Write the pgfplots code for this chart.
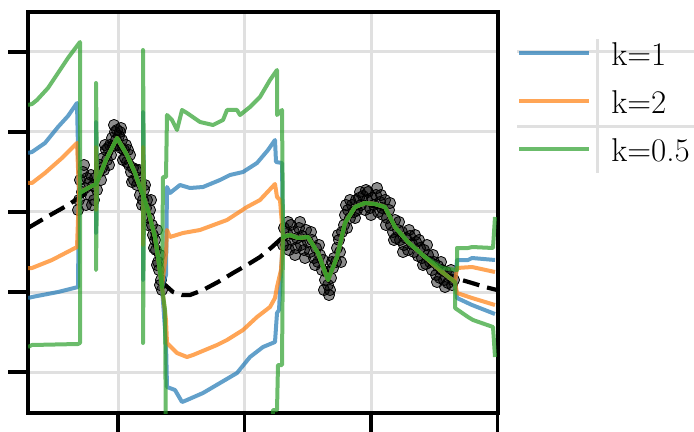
\documentclass[border=0pt]{standalone}
\usepackage{pgfplots}
\pgfplotsset{compat=1.18}
\definecolor{tabblue}{HTML}{1F77B4}
\definecolor{taborange}{HTML}{FF7F0E}
\definecolor{tabgreen}{HTML}{2CA02C}

\begin{document}
\begin{tikzpicture}
\path[use as bounding box] (-14pt,-9.5pt) rectangle (333pt,206.5pt);
% light rules behind the legend
\draw[black!12, line width=1.5pt] (244.5pt,180.5pt) -- (333pt,180.5pt);
\draw[black!12, line width=1.5pt] (244.5pt,143pt) -- (333pt,143pt);
\draw[black!12, line width=1.5pt] (284.5pt,187pt) -- (284.5pt,120pt);
\begin{axis}[
  at={(0,0)}, anchor=south west,
  scale only axis, width=234.75pt, height=200.5pt,
  xmin=28, xmax=497.5, ymin=12, ymax=413, y dir=reverse,
  xtick={118,244.5,371,497.5}, ytick={52,132,212,292,372},
  xticklabels={}, yticklabels={},
  tick pos=left, tick align=outside, major tick length=10pt,
  every tick/.style={black, line width=1.6pt},
  axis line style={black, line width=2pt},
  grid=major, major grid style={black!12, line width=1.5pt},
  clip marker paths=true,
  legend cell align=left,
  legend image code/.code={\draw[#1] (0pt,0pt) -- (35pt,0pt); \path[draw=none] (0pt,0pt) -- (46pt,0pt);},
  legend style={draw=none, fill=none, at={(axis description cs:1.0415,0.9277)}, anchor=north west,
    inner sep=0pt, row sep=12pt, font=\fontsize{16.5}{19}\selectfont,
    nodes={inner sep=0pt, text height=12pt, text depth=0pt}},
  every axis plot/.append style={line join=round},
]
% observations
\addplot[only marks, mark=*, mark size=2.8pt, mark options={draw=none, fill=black, fill opacity=0.45}, forget plot] coordinates {
(79,200)(80,180)(82,192)(83,172)(85,188)(86,205)(87,178)(89,183)(90,195)(91,175)(93,186)(94,200)(95,178)(97,190)(99,172)(100,165)(102,168)(103,158)(104,170)(106,150)(107,160)(108,148)(110,145)(111,155)(112,138)(113,146)(115,132)(116,140)(117,130)(118,145)(119,136)(120,132)(121,148)(122,140)(124,150)(125,158)(126,145)(127,162)(129,165)(130,155)(131,172)(133,168)(134,180)(136,170)(137,185)(138,178)(140,195)(141,183)(143,200)(144,190)(146,208)(147,200)(149,218)(150,210)(152,225)(153,235)(155,240)(156,250)(157,230)(158,262)(159,270)(160,255)(161,280)(162,290)
(78,210)(84,165)(92,205)(101,180)(105,145)(109,165)(114,125)(121,128)(123,160)(128,150)(132,182)(139,170)(142,205)(145,185)(148,225)(151,200)(154,248)(157,265)(160,285)
(284,228)(286,245)(287,233)(289,250)(291,225)(292,240)(294,232)(296,248)(297,238)(299,228)(301,245)(302,236)(304,250)(306,230)(308,242)(310,252)(312,240)(314,258)(316,248)(318,262)(320,255)(322,270)(323,260)(325,280)(327,272)(328,285)(330,290)(331,278)(333,268)(334,258)(336,262)(337,248)(339,240)(340,252)(342,232)(344,225)(345,215)(347,228)(348,210)(350,218)(352,205)(354,212)(356,200)(357,210)(359,198)(361,205)(363,196)(365,210)(367,200)(368,192)(370,208)(372,198)(374,205)(376,195)(378,212)(380,202)(382,208)(383,215)(385,200)(387,218)(389,210)(391,225)(393,232)(395,220)(396,238)(398,230)(400,240)(402,232)(404,245)(406,238)(408,250)(410,236)(412,244)(414,252)(416,242)(418,256)(420,248)(422,258)(424,250)(426,264)(428,255)(430,262)(432,270)(434,262)(436,275)(438,266)(440,278)(442,270)(444,280)(446,272)(448,283)(450,276)(452,285)(454,280)
(283,245)(288,222)(295,255)(300,222)(305,258)(311,232)(315,265)(319,245)(324,290)(329,295)(332,262)(338,235)(341,262)(346,205)(350,200)(355,218)(360,192)(366,190)(371,215)(377,188)(381,195)(386,225)(390,203)(394,240)(399,222)(403,252)(409,230)(415,235)(419,240)(423,265)(427,245)(433,255)(437,282)(441,262)(445,287)(451,270)
};
% posterior mean
\addplot[black, line width=2.1pt, dash pattern=on 8.5pt off 4pt, forget plot] coordinates {
(28,228)(45,218)(68,205)(83,195)(97,182)(106,162)(117,142)(127,157)(135,175)(141,192)(148,212)(155,245)(163,283)(173,292)(182,295)(190,295)(203,290)(218,282)(233,273)(247,265)(260,257)(272,247)(283,237)(298,238)(308,238)(318,252)(328,276)(337,257)(345,225)(355,209)(365,205)(375,206)(385,209)(395,227)(408,242)(425,258)(440,272)(455,278)(472,283)(485,287)(497,290)
};
% k = 1
\addplot[tabblue, opacity=0.7, line width=2pt] coordinates {
(28,153)(32,152)(45,143)(58,127)(68,116)(77,103)(79,193)(88,188)(96,184)(96,122)(97,182)(106,160)(117,138)(127,155)(135,173)(141,190)(143,195)(143,112)(144,198)(148,210)(155,237)(158,257)(162,287)(166,275)(167,187)(170,193)(180,185)(190,188)(203,187)(220,180)(230,175)(243,172)(257,163)(268,150)(275,140)(276,162)(282,163)(283,237)(290,235)(298,238)(308,237)(318,253)(328,280)(337,257)(345,223)(355,207)(365,203)(375,204)(385,207)(395,227)(408,242)(425,257)(442,272)(455,282)(457,260)(468,260)(472,258)(495,260)
};
\addlegendentry{k=1}
\addplot[tabblue, opacity=0.7, line width=2pt, forget plot] coordinates {
(28,298)(32,297)(58,292)(78,287)(79,193)(88,188)(96,184)(96,233)(97,182)(106,160)(117,138)(127,155)(135,173)(141,190)(143,195)(143,280)(144,198)(148,210)(155,237)(158,257)(162,287)(166,343)(167,387)(175,390)(182,402)(187,400)(203,393)(220,383)(237,373)(250,357)(263,347)(275,342)(277,313)(279,310)(283,237)(290,235)(298,238)(308,237)(318,253)(328,280)(337,257)(345,223)(355,207)(365,203)(375,204)(385,207)(395,227)(408,242)(425,257)(442,272)(455,282)(457,298)(472,305)(495,314)
};
% k = 2
\addplot[taborange, opacity=0.7, line width=2pt] coordinates {
(28,183)(32,183)(45,173)(62,158)(77,143)(79,193)(88,188)(96,184)(96,147)(97,182)(106,160)(117,138)(127,155)(135,173)(141,190)(143,195)(143,147)(144,198)(148,210)(155,237)(158,257)(162,287)(166,253)(167,230)(170,237)(183,233)(200,230)(227,220)(247,207)(260,200)(275,184)(277,197)(280,200)(283,237)(290,235)(298,238)(308,237)(318,253)(328,280)(337,257)(345,223)(355,207)(365,203)(375,204)(385,207)(395,227)(408,242)(425,257)(442,272)(455,282)(457,268)(472,267)(495,272)
};
\addlegendentry{k=2}
\addplot[taborange, opacity=0.7, line width=2pt, forget plot] coordinates {
(28,268)(32,268)(52,260)(77,247)(79,193)(88,188)(96,184)(96,210)(97,182)(106,160)(117,138)(127,155)(135,173)(141,190)(143,195)(143,245)(144,198)(148,210)(155,237)(158,257)(162,287)(166,320)(167,343)(177,353)(187,357)(193,355)(217,345)(227,340)(243,330)(257,317)(270,307)(275,298)(277,287)(281,270)(283,237)(290,235)(298,238)(308,237)(318,253)(328,280)(337,257)(345,223)(355,207)(365,203)(375,204)(385,207)(395,227)(408,242)(425,257)(442,272)(455,282)(457,293)(472,298)(495,305)
};
% k = 0.5
\addplot[tabgreen, opacity=0.7, line width=2pt] coordinates {
(28,105)(32,104)(37,100)(48,88)(58,73)(68,58)(80,42)(80,193)(88,188)(96,184)(96,83)(97,182)(106,160)(117,138)(127,155)(135,173)(141,190)(143,195)(143,50)(144,198)(148,210)(155,237)(158,257)(162,287)(163,177)(166,177)(167,115)(172,120)(177,130)(182,110)(187,113)(200,122)(213,125)(223,120)(227,110)(237,110)(240,115)(250,107)(260,97)(270,80)(277,70)(277,115)(282,110)(283,237)(290,235)(298,238)(308,237)(318,253)(328,280)(337,257)(345,223)(355,207)(365,203)(375,204)(385,207)(395,227)(408,242)(425,257)(442,268)(457,270)(457,248)(468,248)(472,247)(493,248)(495,217)
};
\addlegendentry{k=0.5}
\addplot[tabgreen, opacity=0.7, line width=2pt, forget plot] coordinates {
(28,347)(32,345)(78,344)(80,343)(80,193)(88,188)(96,184)(96,270)(97,182)(106,160)(117,138)(127,155)(135,173)(141,190)(143,195)(143,343)(144,198)(148,210)(155,237)(158,257)(162,287)(165,310)(166,450)(272,450)(273,410)(277,410)(278,365)(282,365)(283,237)(290,235)(298,238)(308,237)(318,253)(328,280)(337,257)(345,223)(355,207)(365,203)(375,204)(385,207)(395,227)(408,242)(425,257)(442,272)(455,282)(455,308)(468,317)(473,320)(493,327)(495,357)
};
\end{axis}
\end{tikzpicture}
\end{document}
